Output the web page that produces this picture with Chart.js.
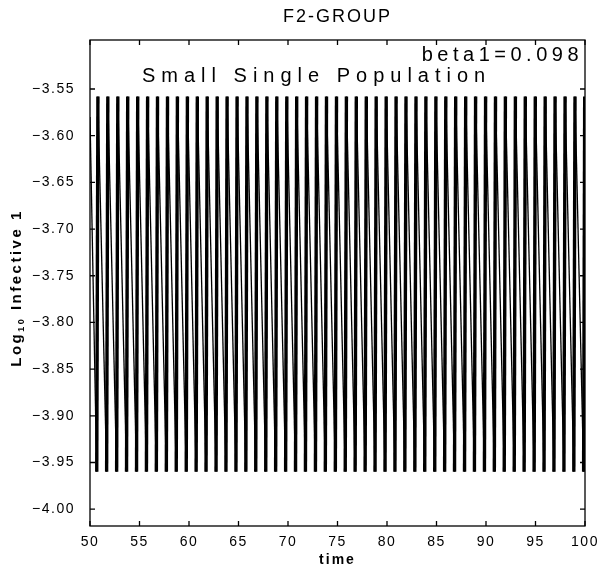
<!DOCTYPE html>
<html>
<head>
<meta charset="utf-8">
<script src="https://cdn.jsdelivr.net/npm/chart.js@4.4.1/dist/chart.umd.min.js"></script>
<style>
  html, body { margin: 0; padding: 0; background: #fff; }
  #wrap { width: 600px; height: 568px; }
</style>
</head>
<body>
<div id="wrap"><canvas id="chart" width="600" height="568"></canvas></div>
<script>
// ---- data ----
const xTicks = [50, 55, 60, 65, 70, 75, 80, 85, 90, 95, 100];
const yTicks = [-4.00, -3.95, -3.90, -3.85, -3.80, -3.75, -3.70, -3.65, -3.60, -3.55];

// start of the trace at the left edge
const startTime = 50.0;
const startValue = -3.58;

// each spike: trough just before the peak, then a slow fall to the next trough
const troughTimes = [
  50.68, 51.68, 52.69, 53.69, 54.70, 55.70, 56.70, 57.71, 58.71, 59.72,
  60.72, 61.72, 62.73, 63.73, 64.74, 65.74, 66.74, 67.75, 68.75, 69.76,
  70.76, 71.76, 72.77, 73.77, 74.78, 75.78, 76.78, 77.79, 78.79, 79.80,
  80.80, 81.80, 82.81, 83.81, 84.82, 85.82, 86.82, 87.83, 88.83, 89.84,
  90.84, 91.84, 92.85, 93.85, 94.86, 95.86, 96.86, 97.87, 98.87, 99.86
];
const peakTimes = [
  50.80, 51.80, 52.81, 53.81, 54.82, 55.82, 56.82, 57.83, 58.83, 59.84,
  60.84, 61.84, 62.85, 63.85, 64.86, 65.86, 66.86, 67.87, 68.87, 69.88,
  70.88, 71.88, 72.89, 73.89, 74.90, 75.90, 76.90, 77.91, 78.91, 79.92,
  80.92, 81.92, 82.93, 83.93, 84.94, 85.94, 86.94, 87.95, 88.95, 89.96,
  90.96, 91.96, 92.97, 93.97, 94.98, 95.98, 96.98, 97.99, 98.99, 99.97
];
const troughValue = -3.960;
const peakValue = -3.558;

const FONT = '"Liberation Sans", Arial, sans-serif';

// build the point list for the line
const points = [{ x: startTime, y: startValue }];
troughTimes.forEach((t, i) => {
  points.push({ x: t, y: troughValue });
  points.push({ x: peakTimes[i], y: peakValue });
});

// frame, inward ticks and the free text
const decorations = {
  id: 'decorations',
  beforeDraw(chart) {
    chart.ctx.letterSpacing = '1.5px';
  },
  afterDraw(chart) {
    const { ctx, chartArea: a, scales } = chart;
    ctx.save();
    ctx.strokeStyle = '#000';
    ctx.lineWidth = 1.3;
    ctx.strokeRect(a.left, a.top, a.right - a.left, a.bottom - a.top);

    const tl = 5;
    ctx.beginPath();
    xTicks.forEach(v => {
      const px = scales.x.getPixelForValue(v);
      ctx.moveTo(px, a.bottom); ctx.lineTo(px, a.bottom - tl);
      ctx.moveTo(px, a.top);    ctx.lineTo(px, a.top + tl);
    });
    yTicks.forEach(v => {
      const py = scales.y.getPixelForValue(v);
      ctx.moveTo(a.left, py);  ctx.lineTo(a.left + tl, py);
      ctx.moveTo(a.right, py); ctx.lineTo(a.right - tl, py);
    });
    ctx.stroke();

    ctx.fillStyle = '#000';
    ctx.textBaseline = 'middle';

    // title
    ctx.letterSpacing = '2px';
    ctx.font = '18px ' + FONT;
    ctx.textAlign = 'center';
    ctx.fillText('F2-GROUP', (a.left + a.right) / 2, 17);

    // annotations inside the frame
    ctx.letterSpacing = '4.5px';
    ctx.font = '20px ' + FONT;
    ctx.textAlign = 'right';
    ctx.fillText('beta1=0.098', a.right - 2, 55);
    ctx.letterSpacing = '6px';
    ctx.textAlign = 'left';
    ctx.fillText('Small Single Population', 142, 76);

    // x title
    ctx.letterSpacing = '2px';
    ctx.font = 'bold 14px ' + FONT;
    ctx.textAlign = 'center';
    ctx.fillText('time', (a.left + a.right) / 2, 560);

    // y title with subscript
    ctx.translate(17, 288);
    ctx.rotate(-Math.PI / 2);
    ctx.textAlign = 'left';
    ctx.letterSpacing = '2.5px';
    const p1 = 'Log', p2 = '10', p3 = ' Infective 1';
    ctx.font = 'bold 15px ' + FONT;
    const w1 = ctx.measureText(p1).width;
    const w3 = ctx.measureText(p3).width;
    ctx.font = 'bold 9px ' + FONT;
    const w2 = ctx.measureText(p2).width;
    const total = w1 + w2 + w3;
    let cx = -total / 2;
    ctx.font = 'bold 15px ' + FONT;
    ctx.fillText(p1, cx, 0);
    cx += w1;
    ctx.font = 'bold 9px ' + FONT;
    ctx.fillText(p2, cx, 5);
    cx += w2;
    ctx.font = 'bold 15px ' + FONT;
    ctx.fillText(p3, cx, 0);
    ctx.restore();
  }
};

new Chart(document.getElementById('chart'), {
  type: 'line',
  data: {
    datasets: [{
      data: points,
      borderColor: '#000',
      borderWidth: 1.3,
      pointRadius: 0,
      tension: 0,
      segment: {
        borderWidth: c => (c.p1.parsed.y > c.p0.parsed.y ? 3.4 : 1.3)
      }
    }]
  },
  options: {
    responsive: false,
    animation: false,
    events: [],
    layout: { padding: { top: 40, right: 15, left: 0, bottom: 0 } },
    plugins: { legend: { display: false }, tooltip: { enabled: false }, title: { display: false } },
    scales: {
      x: {
        type: 'linear',
        min: 50,
        max: 100,
        afterBuildTicks: s => { s.ticks = xTicks.map(v => ({ value: v })); },
        afterFit: s => { s.height = 42; },
        grid: { display: false },
        border: { display: false },
        ticks: {
          color: '#000',
          padding: 0,
          maxRotation: 0,
          font: { family: FONT, size: 14 },
          callback: v => String(v)
        }
      },
      y: {
        type: 'linear',
        min: -4.018,
        max: -3.4975,
        afterBuildTicks: s => { s.ticks = yTicks.map(v => ({ value: v })); },
        afterFit: s => { s.width = 90; },
        grid: { display: false },
        border: { display: false },
        ticks: {
          color: '#000',
          padding: 7,
          font: { family: FONT, size: 14 },
          callback: v => v.toFixed(2).replace('-', '\u2212')
        }
      }
    }
  },
  plugins: [decorations]
});
</script>
</body>
</html>
